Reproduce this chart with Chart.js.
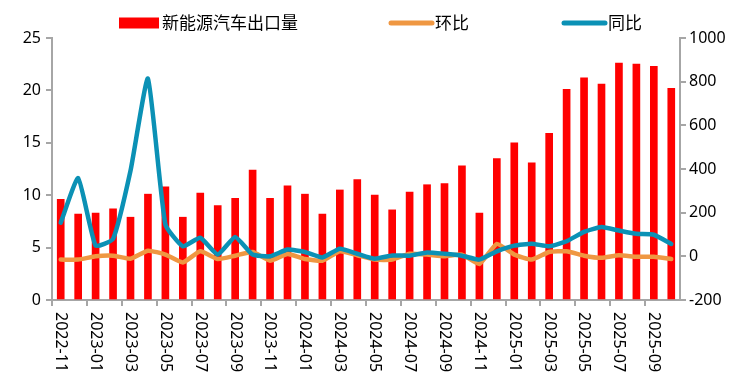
<!DOCTYPE html>
<html>
<head>
<meta charset="utf-8">
<script src="https://cdn.jsdelivr.net/npm/chart.js@4/dist/chart.umd.min.js"></script>
<style>
html,body{margin:0;padding:0;background:#fff;}
#c{display:block;}
</style>
</head>
<body>
<canvas id="c" width="739" height="390"></canvas>
<script>
const categories = [
  '2022-11','2022-12',
  '2023-01','2023-02','2023-03','2023-04','2023-05','2023-06','2023-07','2023-08','2023-09','2023-10','2023-11','2023-12',
  '2024-01','2024-02','2024-03','2024-04','2024-05','2024-06','2024-07','2024-08','2024-09','2024-10','2024-11','2024-12',
  '2025-01','2025-02','2025-03','2025-04','2025-05','2025-06','2025-07','2025-08','2025-09','2025-10'
];
const exportVolume = [
  9.6, 8.2, 8.3, 8.7, 7.9, 10.1, 10.8, 7.9, 10.2, 9.0, 9.7, 12.4,
  9.7, 10.9, 10.1, 8.2, 10.5, 11.5, 10.0, 8.6, 10.3, 11.0, 11.1, 12.8,
  8.3, 13.5, 15.0, 13.1, 15.9, 20.1, 21.2, 20.6, 22.6, 22.5, 22.3, 20.2
];
const momChange = [
  -15, -15, 0, 3, -11, 26, 8, -28, 23, -12, 3, 20,
  -20, 11, -12, -20, 23, 5, -15, -15, 12, 8, 0, 8,
  -35, 57, 8, -15, 20, 23, 3, -7, 5, -2, -2, -12
];
const yoyChange = [
  154, 358, 49, 80, 392, 814, 146, 46, 85, 8, 89, 8,
  0, 31, 20, -5, 35, 12, -11, 4, 3, 18, 12, 3,
  -15, 23, 49, 58, 46, 69, 112, 134, 118, 103, 99, 57
];
const leftTicks = [0, 5, 10, 15, 20, 25];
const rightTicks = [-200, 0, 200, 400, 600, 800, 1000];
const seriesNames = ['新能源汽车出口量', '环比', '同比'];

const AXIS = '#a6a6a6';
const FONT = '"Noto Sans", "Noto Sans CJK SC", sans-serif';

const legendPlugin = {
  id: 'customLegend',
  afterDraw(chart) {
    const ctx = chart.ctx;
    const ds = chart.data.datasets;
    const y = 23;
    const items = [
      {x: 119, w: 40, type: 'rect', color: ds[0].backgroundColor, text: ds[0].label},
      {x: 391, w: 41, type: 'line', color: ds[1].borderColor, text: ds[1].label},
      {x: 564, w: 41, type: 'line', color: ds[2].borderColor, text: ds[2].label}
    ];
    ctx.save();
    ctx.font = '17px "Noto Sans CJK SC", sans-serif';
    ctx.textBaseline = 'middle';
    ctx.textAlign = 'left';
    items.forEach(it => {
      if (it.type === 'rect') {
        ctx.fillStyle = it.color;
        ctx.fillRect(it.x, y - 5.5, it.w, 11);
      } else {
        ctx.strokeStyle = it.color;
        ctx.lineWidth = 5;
        ctx.lineCap = 'round';
        ctx.beginPath();
        ctx.moveTo(it.x, y);
        ctx.lineTo(it.x + it.w, y);
        ctx.stroke();
      }
      ctx.fillStyle = '#000';
      ctx.fillText(it.text, it.x + it.w + 3, y);
    });
    ctx.restore();
  }
};

const xLabelPlugin = {
  id: 'xLabels',
  afterDraw(chart) {
    const sc = chart.scales.x;
    const ctx = chart.ctx;
    ctx.save();
    ctx.font = '16px ' + FONT;
    ctx.fillStyle = '#000';
    ctx.textAlign = 'left';
    ctx.textBaseline = 'middle';
    chart.data.labels.forEach((lab, i) => {
      if (i % 2 !== 0) return;
      const px = sc.getPixelForTick(i);
      ctx.save();
      ctx.translate(px, sc.top + 12);
      ctx.rotate(Math.PI / 2);
      ctx.fillText(lab, 0, 0);
      ctx.restore();
    });
    ctx.restore();
  }
};

new Chart(document.getElementById('c'), {
  type: 'bar',
  data: {
    labels: categories,
    datasets: [
      {
        type: 'bar',
        label: seriesNames[0],
        data: exportVolume,
        backgroundColor: '#ff0000',
        barThickness: 7,
        yAxisID: 'y',
        order: 3
      },
      {
        type: 'line',
        label: seriesNames[1],
        data: momChange,
        borderColor: '#ef9742',
        backgroundColor: '#ef9742',
        borderWidth: 4.5,
        pointRadius: 0,
        tension: 0.15,
        borderCapStyle: 'round',
        borderJoinStyle: 'round',
        yAxisID: 'y1',
        order: 2
      },
      {
        type: 'line',
        label: seriesNames[2],
        data: yoyChange,
        borderColor: '#0b91b5',
        backgroundColor: '#0b91b5',
        borderWidth: 4.5,
        pointRadius: 0,
        tension: 0.15,
        borderCapStyle: 'round',
        borderJoinStyle: 'round',
        yAxisID: 'y1',
        order: 1
      }
    ]
  },
  options: {
    responsive: false,
    animation: false,
    devicePixelRatio: 1,
    layout: {padding: {top: 38, left: 0, right: 0, bottom: 0}},
    plugins: {
      legend: {display: false},
      tooltip: {enabled: false}
    },
    scales: {
      x: {
        offset: true,
        grid: {
          offset: true,
          drawOnChartArea: false,
          drawTicks: true,
          tickLength: 6,
          lineWidth: 2,
          color: c => (c.index % 2 === 0 ? AXIS : 'rgba(0,0,0,0)')
        },
        border: {display: true, color: AXIS, width: 2},
        ticks: {
          autoSkip: false,
          minRotation: 90,
          maxRotation: 90,
          color: 'rgba(0,0,0,0)',
          font: {size: 16, family: FONT},
          callback: (v, i) => (i % 2 === 0 ? categories[i] : '')
        },
        afterFit: s => { s.height = 90; }
      },
      y: {
        position: 'left',
        min: 0,
        max: 25,
        afterBuildTicks: s => { s.ticks = leftTicks.map(v => ({value: v})); },
        grid: {drawOnChartArea: false, drawTicks: true, tickLength: 6, color: AXIS, lineWidth: 2},
        border: {display: true, color: AXIS, width: 2},
        ticks: {color: '#000', font: {size: 16, family: FONT}, padding: 5, callback: v => String(v)},
        afterFit: s => { s.width = 52; }
      },
      y1: {
        position: 'right',
        min: -200,
        max: 1000,
        afterBuildTicks: s => { s.ticks = rightTicks.map(v => ({value: v})); },
        grid: {drawOnChartArea: false, drawTicks: true, tickLength: 6, color: AXIS, lineWidth: 2},
        border: {display: true, color: AXIS, width: 2},
        ticks: {color: '#000', font: {size: 16, family: FONT}, padding: 3, callback: v => String(v)},
        afterFit: s => { s.width = 59; }
      }
    }
  },
  plugins: [legendPlugin, xLabelPlugin]
});
</script>
</body>
</html>
